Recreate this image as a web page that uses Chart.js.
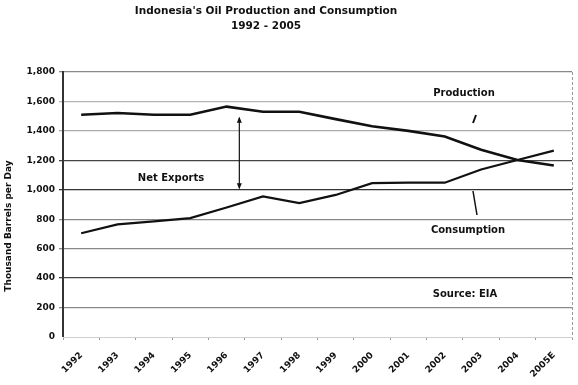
<!DOCTYPE html>
<html>
<head>
<meta charset="utf-8">
<script src="https://cdn.jsdelivr.net/npm/chart.js@4"></script>
<style>
  html, body { margin: 0; padding: 0; background: #fff; }
  #wrap { width: 578px; height: 385px; position: relative; }
</style>
</head>
<body>
<div id="wrap"><canvas id="chart"></canvas></div>
<script>
// data
var years = ["1992", "1993", "1994", "1995", "1996", "1997", "1998", "1999",
             "2000", "2001", "2002", "2003", "2004", "2005E"];
var production = [1510, 1522, 1510, 1510, 1565, 1530, 1530, 1480, 1432, 1400, 1362, 1272, 1202, 1165];
var consumption = [705, 765, 785, 808, 880, 955, 910, 965, 1045, 1048, 1048, 1138, 1202, 1266];
var yTicks = [0, 200, 400, 600, 800, 1000, 1200, 1400, 1600, 1800];

// grid shade per tick value (scan has uneven lines)
var gridShade = {0: "#cfcfcf", 200: "#8a8a8a", 400: "#444", 600: "#888", 800: "#888",
                 1000: "#333", 1200: "#444", 1400: "#aaa", 1600: "#b5b5b5", 1800: "#888"};

var FONT = "'DejaVu Sans', sans-serif";

var notes = {
  id: "notes",
  afterDraw: function (chart) {
    var ctx = chart.ctx;
    var xs = chart.scales.x, ys = chart.scales.y, area = chart.chartArea;
    ctx.save();
    ctx.fillStyle = "#111";
    ctx.textAlign = "center";
    ctx.textBaseline = "middle";
    ctx.font = "bold 10.5px " + FONT;
    ctx.fillText("Indonesia's Oil Production and Consumption", 266, 11);
    ctx.fillText("1992 - 2005", 266, 26);

    // y axis title
    ctx.save();
    ctx.translate(9, 226);
    ctx.rotate(-Math.PI / 2);
    ctx.font = "bold 9px " + FONT;
    ctx.fillText("Thousand Barrels per Day", 0, 0);
    ctx.restore();

    // right border, dashed
    ctx.strokeStyle = "#999";
    ctx.lineWidth = 1;
    ctx.setLineDash([3, 2]);
    ctx.beginPath();
    ctx.moveTo(area.right + 0.5, area.top);
    ctx.lineTo(area.right + 0.5, area.bottom);
    ctx.stroke();
    ctx.setLineDash([]);

    // labels
    ctx.font = "bold 10px " + FONT;
    ctx.fillText("Production", 464, 93);
    ctx.fillText("Consumption", 468, 230);
    ctx.fillText("Net Exports", 171, 178);
    ctx.fillText("Source: EIA", 465, 294);

    // pointer strokes
    ctx.strokeStyle = "#111";
    ctx.lineWidth = 2;
    ctx.beginPath();
    ctx.moveTo(476, 115); ctx.lineTo(473, 123);
    ctx.stroke();
    ctx.lineWidth = 1.5;
    ctx.beginPath();
    ctx.moveTo(473, 191); ctx.lineTo(477, 215);
    ctx.stroke();

    // double arrow for net exports
    var ax = xs.getPixelForValue(4.35);
    var yTop = ys.getPixelForValue(1490), yBot = ys.getPixelForValue(1010);
    ctx.lineWidth = 1.2;
    ctx.beginPath();
    ctx.moveTo(ax, yTop); ctx.lineTo(ax, yBot);
    ctx.stroke();
    ctx.beginPath();
    ctx.moveTo(ax, yTop - 1); ctx.lineTo(ax - 2.5, yTop + 5); ctx.lineTo(ax + 2.5, yTop + 5); ctx.closePath();
    ctx.moveTo(ax, yBot + 1); ctx.lineTo(ax - 2.5, yBot - 5); ctx.lineTo(ax + 2.5, yBot - 5); ctx.closePath();
    ctx.fill();
    ctx.restore();
  }
};

var config = {
  type: "line",
  data: {
    labels: years,
    datasets: [
      {
        label: "Production",
        data: production,
        borderColor: "#111",
        borderWidth: 2.6,
        pointRadius: 0,
        tension: 0,
        fill: false
      },
      {
        label: "Consumption",
        data: consumption,
        borderColor: "#111",
        borderWidth: 2.2,
        pointRadius: 0,
        tension: 0,
        fill: false
      }
    ]
  },
  options: {
    responsive: false,
    animation: false,
    layout: { padding: { top: 72, right: 6, left: 0, bottom: 0 } },
    plugins: {
      legend: { display: false },
      title: { display: false },
      tooltip: { enabled: false }
    },
    scales: {
      x: {
        offset: true,
        grid: {
          offset: true,
          drawOnChartArea: false,
          tickLength: 3,
          color: "#999"
        },
        border: { display: true, color: "#cfcfcf", width: 1 },
        ticks: {
          autoSkip: false,
          maxRotation: 45,
          minRotation: 45,
          padding: 10,
          color: "#111",
          font: { family: FONT, size: 9, weight: "bold" }
        },
        afterFit: function (scale) { scale.height = 48; }
      },
      y: {
        min: 0,
        max: 1800,
        afterBuildTicks: function (scale) {
          scale.ticks = yTicks.map(function (v) { return { value: v }; });
        },
        grid: {
          tickLength: 4,
          lineWidth: function (c) { return (c.tick && c.tick.value === 0) ? 0 : 1.3; },
          color: function (c) { return c.tick ? gridShade[c.tick.value] : "#888"; }
        },
        border: { display: true, color: "#333", width: 2 },
        ticks: {
          padding: 4,
          color: "#111",
          font: { family: FONT, size: 9, weight: "bold" },
          callback: function (v) { return v.toLocaleString("en-US"); }
        },
        afterFit: function (scale) { scale.width = 63; }
      }
    }
  },
  plugins: [notes]
};

var canvas = document.getElementById("chart");
canvas.width = 578;
canvas.height = 385;
new Chart(canvas.getContext("2d"), config);
</script>
</body>
</html>
